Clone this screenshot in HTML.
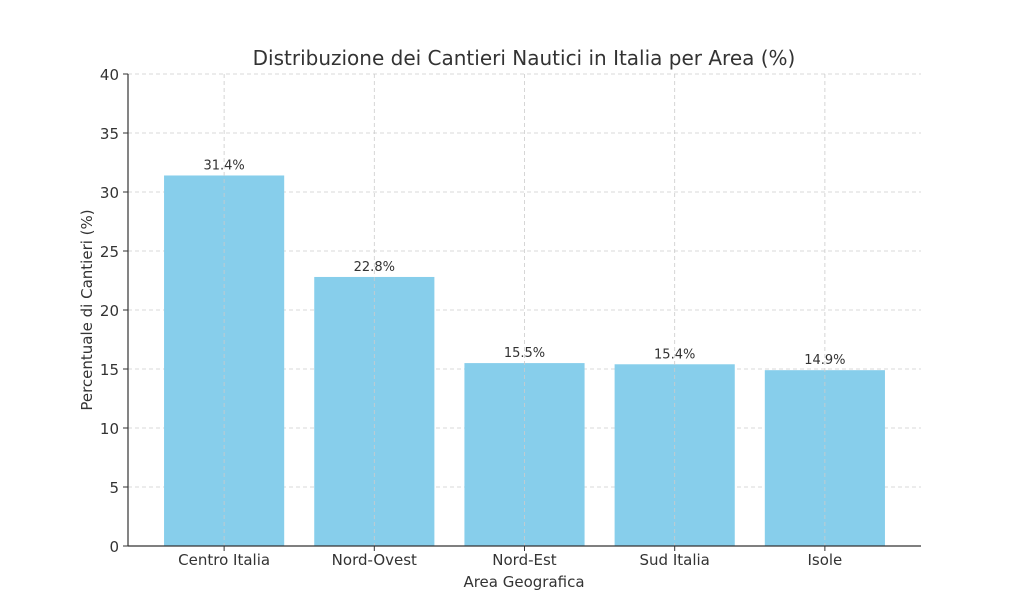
<!DOCTYPE html>
<html><head><meta charset="utf-8"><style>
body{margin:0;background:#fff;}
svg{display:block;font-family:"DejaVu Sans","Liberation Sans",sans-serif;}
</style></head><body>
<svg id="chart" width="1024" height="614" viewBox="0 0 1024 614">
<text x="524" y="65" text-anchor="middle" font-size="20" fill="#333">Distribuzione dei Cantieri Nautici in Italia per Area (%)</text>
<g id="grid"></g><g id="bars"></g><g id="axes"></g>
<text x="524" y="587" text-anchor="middle" font-size="15" fill="#333">Area Geografica</text>
<text transform="translate(92,310) rotate(-90)" text-anchor="middle" font-size="15" fill="#333">Percentuale di Cantieri (%)</text>
</svg>
<script>
const categories=["Centro Italia","Nord-Ovest","Nord-Est","Sud Italia","Isole"];
const values=[31.4,22.8,15.5,15.4,14.9];
const yTicks=[0,5,10,15,20,25,30,35,40];
const NS="http://www.w3.org/2000/svg";
const L=128,R=921,T=74,B=546;
const xMin=-0.64,xMax=4.64,yMax=40;
const x=v=>L+(v-xMin)/(xMax-xMin)*(R-L);
const y=v=>B-v/yMax*(B-T);
const bw=0.8*(R-L)/(xMax-xMin);
function mk(tag,attrs,parent){const e=document.createElementNS(NS,tag);for(const k in attrs)e.setAttribute(k,attrs[k]);parent.appendChild(e);return e;}
const grid=document.getElementById('grid'),bars=document.getElementById('bars'),axes=document.getElementById('axes');
yTicks.forEach(t=>{
 const g=mk('line',{x1:L,x2:R,y1:y(t),y2:y(t),stroke:'#ccc','stroke-dasharray':'4,3','stroke-width':0.8},grid);
 
 
 const tk=mk('line',{x1:L-5,x2:L,y1:y(t),y2:y(t),stroke:'#333'},axes);
 
 
 const lb=mk('text',{x:L-9,y:y(t)+6,'text-anchor':'end','font-size':15,fill:'#333'},axes);
 lb.textContent=t;
 
 
});
categories.forEach((c,i)=>{
 const b=mk('rect',{x:x(i)-bw/2,y:y(values[i]),width:bw,height:B-y(values[i]),fill:'#87ceeb'},bars);
 
 
 const v=mk('text',{x:x(i),y:y(values[i])-6,'text-anchor':'middle','font-size':13,fill:'#333'},bars);
 v.textContent=values[i].toFixed(1)+'%';
 
 
 const g=mk('line',{x1:x(i),x2:x(i),y1:T,y2:B,stroke:'#ccc','stroke-dasharray':'4,3','stroke-width':0.8},bars);
 
 
 const tk=mk('line',{x1:x(i),x2:x(i),y1:B,y2:B+5,stroke:'#333'},axes);
 
 
 const lb=mk('text',{x:x(i),y:B+19,'text-anchor':'middle','font-size':15,fill:'#333'},axes);
 lb.textContent=c;
 
 
});
const la=mk('line',{x1:L,x2:L,y1:T,y2:B,stroke:'#333','stroke-width':1.2},axes);


const ba=mk('line',{x1:L,x2:R,y1:B,y2:B,stroke:'#333','stroke-width':1.2},axes);


</script>
</body></html>
